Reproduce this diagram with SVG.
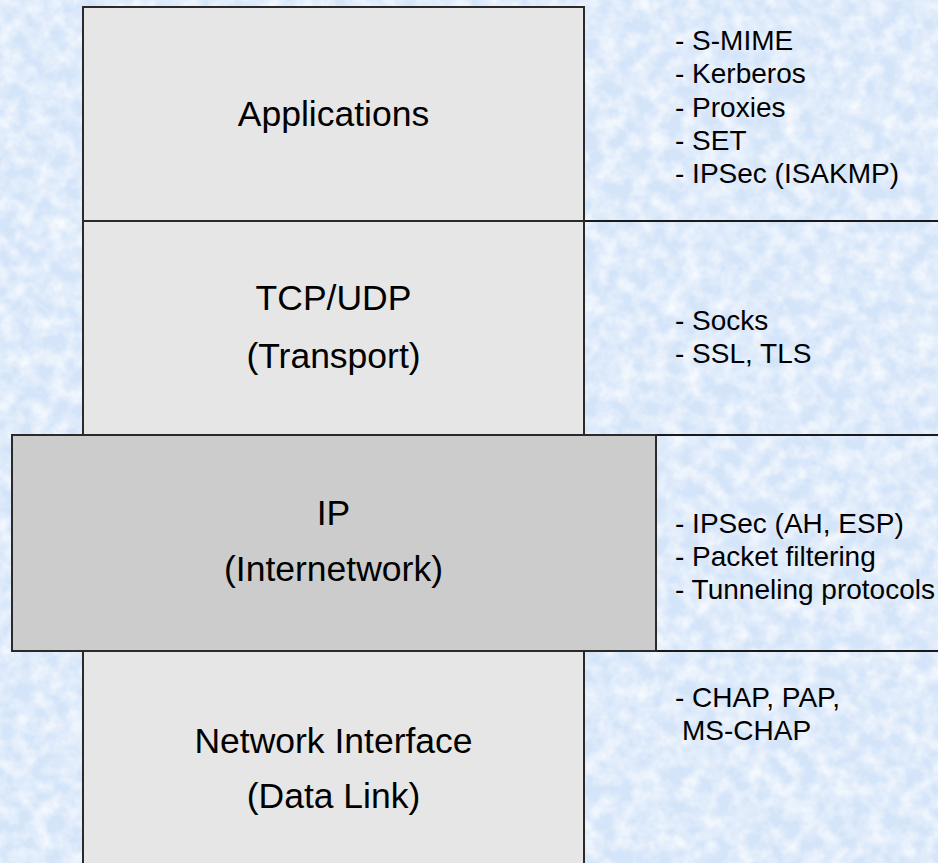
<svg xmlns="http://www.w3.org/2000/svg" width="938" height="863" viewBox="0 0 938 863">
  <defs>
    <filter id="tex" x="0" y="0" width="100%" height="100%">
      <feTurbulence type="fractalNoise" baseFrequency="0.06" numOctaves="3" seed="7" result="n"/>
      <feColorMatrix in="n" type="matrix" values="0 0 0 0 1  0 0 0 0 1  0 0 0 0 1  1.5 0 0 0 -0.5"/>
    </filter>
    <style>
      .box { stroke: #2a2a2a; stroke-width: 2; }
      .light { fill: #e6e6e6; }
      .dark { fill: #cccccc; }
      .line { stroke: #1a1a1a; stroke-width: 2; fill: none; }
      .main { font-family: "Liberation Sans", Arial, sans-serif; font-size: 35.5px; fill: #000; text-anchor: middle; }
      .side { font-family: "Liberation Sans", Arial, sans-serif; font-size: 28px; fill: #000; }
    </style>
  </defs>
  <g id="background">
    <rect x="0" y="0" width="938" height="863" fill="#d5e5f9"/>
    <rect x="0" y="0" width="938" height="863" filter="url(#tex)"/>
  </g>
  <g id="connectors">
    <line class="line" x1="584" y1="221" x2="938" y2="221"/>
    <line class="line" x1="584" y1="435" x2="938" y2="435"/>
    <line class="line" x1="656" y1="651" x2="938" y2="651"/>
  </g>
  <g id="applications">
    <rect class="box light" x="83" y="7" width="501" height="214"/>
    <text class="main" x="333.5" y="126">Applications</text>
  </g>
  <g id="transport">
    <rect class="box light" x="83" y="221" width="501" height="214"/>
    <text class="main" x="333.5" y="310">TCP/UDP</text>
    <text class="main" x="333.5" y="368">(Transport)</text>
  </g>
  <g id="internetwork">
    <rect class="box dark" x="12" y="435" width="644" height="216"/>
    <text class="main" x="333.5" y="525">IP</text>
    <text class="main" x="333.5" y="581">(Internetwork)</text>
  </g>
  <g id="datalink">
    <rect class="box light" x="83" y="651" width="501" height="230"/>
    <text class="main" x="333.5" y="753">Network Interface</text>
    <text class="main" x="333.5" y="808">(Data Link)</text>
  </g>
  <g id="app-security">
    <text class="side" x="675" y="50">- S-MIME</text>
    <text class="side" x="675" y="83.3">- Kerberos</text>
    <text class="side" x="675" y="116.7">- Proxies</text>
    <text class="side" x="675" y="150">- SET</text>
    <text class="side" x="675" y="183.3">- IPSec (ISAKMP)</text>
  </g>
  <g id="transport-security">
    <text class="side" x="675" y="330">- Socks</text>
    <text class="side" x="675" y="363">- SSL, TLS</text>
  </g>
  <g id="ip-security">
    <text class="side" x="675" y="533">- IPSec (AH, ESP)</text>
    <text class="side" x="675" y="566">- Packet filtering</text>
    <text class="side" x="675" y="599">- Tunneling protocols</text>
  </g>
  <g id="link-security">
    <text class="side" x="675" y="707">- CHAP, PAP,</text>
    <text class="side" x="682" y="740">MS-CHAP</text>
  </g>
</svg>
